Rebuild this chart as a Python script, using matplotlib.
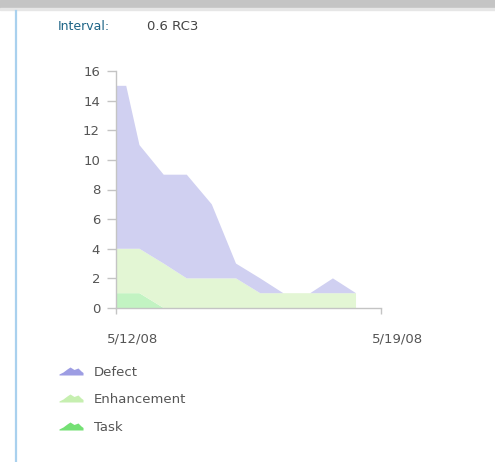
import matplotlib
matplotlib.use("Agg")
import matplotlib.pyplot as plt
import matplotlib.transforms as mtransforms
from matplotlib.lines import Line2D
from matplotlib.patches import Rectangle
from matplotlib.path import Path

# data (x = days after 5/12/08)
days = [0, 0.27, 0.62, 1.26, 1.87, 2.53, 3.17, 3.81, 4.42, 5.13, 5.73, 6.34]
task = [1, 1, 1, 0, 0, 0, 0, 0, 0, 0, 0, 0]
enhancement = [3, 3, 3, 3, 2, 2, 2, 1, 1, 1, 1, 1]
defect = [11, 11, 7, 6, 7, 5, 1, 1, 0, 0, 1, 0]
series_names = ["Defect", "Enhancement", "Task"]
tick_days = [0, 7]
tick_labels = ["5/12/08", "5/19/08"]
yticks = [0, 2, 4, 6, 8, 10, 12, 14, 16]

fill_cols = {"Task": "#c2f3c2", "Enhancement": "#e3f6d4", "Defect": "#d0d0f1"}
icon_cols = {"Defect": "#9d9de3", "Enhancement": "#c6efb0", "Task": "#74e074"}
txt_col = "#555555"

W, H = 495, 462
fig = plt.figure(figsize=(W / 100, H / 100), dpi=100)

# top grey bar + left blue rule
fig.patches.append(Rectangle((0, 1 - 8 / H), 1, 8 / H, transform=fig.transFigure,
                             color="#c4c4c4", zorder=0))
fig.patches.append(Rectangle((0, 1 - 10 / H), 1, 2 / H, transform=fig.transFigure,
                             color="#e6e6e6", zorder=0))
fig.add_artist(Line2D([16 / W, 16 / W], [0, 1 - 11 / H], color="#a9d1ee", lw=1.6))

fig.text(58 / W, 1 - 27 / H, "Interval:", color="#1d6486", fontsize=9, va="center")
fig.text(147 / W, 1 - 27 / H, "0.6 RC3", color="#444444", fontsize=9.5, va="center")

ax = fig.add_axes([116 / W, 1 - 308 / H, (381 - 116) / W, (308 - 71) / H])
ax.stackplot(days, task, enhancement, defect,
             colors=[fill_cols["Task"], fill_cols["Enhancement"], fill_cols["Defect"]],
             linewidth=0)
ax.set_xlim(0, 7)
ax.set_ylim(0, 16)
for s in ["top", "right"]:
    ax.spines[s].set_visible(False)
for s in ["left", "bottom"]:
    ax.spines[s].set_color("#c4c4c4")
    ax.spines[s].set_linewidth(1)
ax.set_yticks(yticks)
ax.set_xticks(tick_days)
ax.set_xticklabels(tick_labels)
ax.tick_params(axis="y", length=6.5, width=1, color="#c4c4c4", pad=5,
               labelsize=9.5, labelcolor=txt_col)
ax.tick_params(axis="x", length=4, width=1, color="#c4c4c4", pad=14,
               labelsize=9.5, labelcolor=txt_col)
offset = mtransforms.ScaledTranslation(-9 / 100, 0, fig.dpi_scale_trans)
for lab in ax.get_xticklabels():
    lab.set_horizontalalignment("left")
    lab.set_transform(lab.get_transform() + offset)

# legend with little mountain icons
pts = [(0, 0), (0, 1), (4, 3), (8, 6), (11, 8), (15, 5.5), (19, 7), (22, 4),
       (24, 2.5), (24, 0), (0, 0)]
verts = [(x - 12, y - 4) for x, y in pts]
mountain = Path(verts, [Path.MOVETO] + [Path.LINETO] * (len(verts) - 2) + [Path.CLOSEPOLY])
handles = [Line2D([], [], marker=mountain, linestyle="none", markersize=17.3,
                  markerfacecolor=icon_cols[n], markeredgewidth=0) for n in series_names]
leg = fig.legend(handles, series_names, loc="upper left",
                 bbox_to_anchor=(50 / W, 1 - 359 / H), frameon=False,
                 fontsize=9.5, labelspacing=1.1, handlelength=2.2, handletextpad=0.6,
                 borderpad=0)
for t in leg.get_texts():
    t.set_color(txt_col)

fig.savefig("out.png", dpi=100, facecolor="white")
